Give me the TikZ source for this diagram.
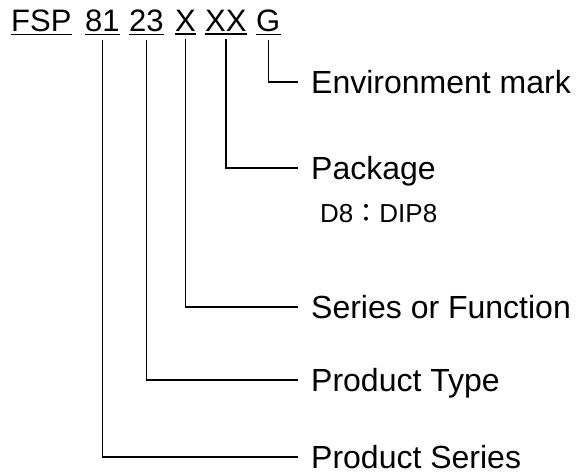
\documentclass[tikz,border=0pt]{standalone}
\usepackage{fontspec}
\setmainfont{Liberation Sans}
\newfontfamily\cjk{Noto Sans CJK TC}
\usepackage{tikz}
\usetikzlibrary{positioning}
\tikzset{
    grp/.style={inner sep=0pt, anchor=base west, font=\fontsize{31}{36}\selectfont},
    lbl/.style={anchor=west, inner xsep=13pt, inner ysep=0pt, text height=23pt, text depth=0pt, font=\fontsize{32}{36}\selectfont},
    sub/.style={inner sep=0pt, anchor=base west, font=\fontsize{26}{30}\selectfont},
    lead/.style={line width=1.3pt}
}

\begin{document}
\begin{tikzpicture}[x=1pt, y=-1pt]
                \useasboundingbox (0,0) rectangle (576,474);
                % code groups
                \node[grp] (fsp) at (11,31) {FSP};
                \node[grp] (n81) at (85,31) {81};
                \node[grp] (n23) at (129,31) {23};
                \node[grp] (nX) at (175,31) {X};
                \node[grp] (nXX) at (205,31) {XX};
                \node[grp] (nG) at (256,31) {G};
                \foreach \g in {fsp,n81,n23,nX,nXX,nG}
                    \draw[line width=1.5pt] ([yshift=-3pt]\g.south west) -- ([yshift=-3pt]\g.south east);
                % labels
                \node[lbl] (env) at (298,82) {Environment mark};
                \node[lbl] (pkg) at (298,168) {Package};
                \node[sub] (pkgsub) at ([xshift=22pt, yshift=-43pt]pkg.base west) {D8{\cjk ：}DIP8};
                \node[lbl] (fun) at (298,307) {Series or Function};
                \node[lbl] (typ) at (298,380) {Product Type};
                \node[lbl] (ser) at (298,457) {Product Series};
                \foreach \g/\l in {nG/env, nXX/pkg, nX/fun, n23/typ, n81/ser}
                    \draw[lead] ([yshift=-8pt]\g.south) |- (\l.west);
\end{tikzpicture}
\end{document}
